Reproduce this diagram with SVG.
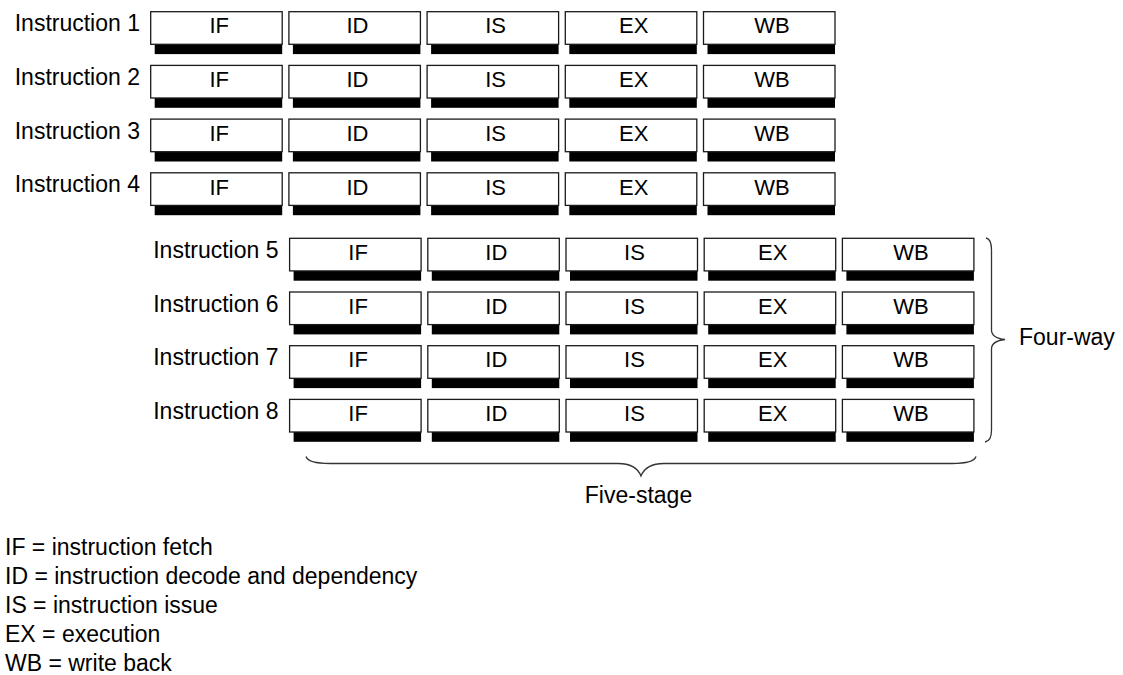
<svg xmlns="http://www.w3.org/2000/svg" width="1123" height="675" viewBox="0 0 1123 675">
<style>
text{font-family:"Liberation Sans",Arial,Helvetica,sans-serif;fill:#000}
.lab{font-size:23px;text-anchor:end}
.st{font-size:22px;text-anchor:middle}
.leg{font-size:23px}
.note{font-size:23px;text-anchor:middle}
.box{fill:#fff;stroke:#1a1a1a;stroke-width:1.3}
.sh{fill:#000}
.brace{fill:none;stroke:#333;stroke-width:1.3}
</style>
<defs>
<g id="stage">
<rect class="sh" x="4" y="32.6" width="127.5" height="9.8"/>
<rect class="box" x="0" y="0" width="131.5" height="32.6"/>
</g>
<g id="row">
<use href="#stage" x="0"/>
<use href="#stage" x="138.2"/>
<use href="#stage" x="276.4"/>
<use href="#stage" x="414.6"/>
<use href="#stage" x="552.8"/>
<text class="st" x="68.5" y="21.8">IF</text>
<text class="st" x="206.7" y="21.8">ID</text>
<text class="st" x="344.9" y="21.8">IS</text>
<text class="st" x="483.1" y="21.8">EX</text>
<text class="st" x="621.3" y="21.8">WB</text>
</g>
</defs>
<g id="instr1"><text class="lab" x="140" y="31.3">Instruction 1</text><use href="#row" x="150.7" y="11.7"/></g>
<g id="instr2"><text class="lab" x="140" y="85">Instruction 2</text><use href="#row" x="150.7" y="65.4"/></g>
<g id="instr3"><text class="lab" x="140" y="138.7">Instruction 3</text><use href="#row" x="150.7" y="119.1"/></g>
<g id="instr4"><text class="lab" x="140" y="192.4">Instruction 4</text><use href="#row" x="150.7" y="172.8"/></g>
<g id="instr5"><text class="lab" x="278.5" y="257.9">Instruction 5</text><use href="#row" x="289.6" y="238.3"/></g>
<g id="instr6"><text class="lab" x="278.5" y="311.6">Instruction 6</text><use href="#row" x="289.6" y="292"/></g>
<g id="instr7"><text class="lab" x="278.5" y="365.3">Instruction 7</text><use href="#row" x="289.6" y="345.7"/></g>
<g id="instr8"><text class="lab" x="278.5" y="419">Instruction 8</text><use href="#row" x="289.6" y="399.4"/></g>
<g id="connectors">
<path class="brace" d="M986,238 Q991.5,239 991.5,250 L991.5,330 Q991.5,338 1005,339.5 Q991.5,341 991.5,349 L991.5,430 Q991.5,441 985,442"/>
<path class="brace" d="M306,456.5 Q308,463.5 330,463.5 L618,463.5 Q636,463.5 641,476 Q646,463.5 664,463.5 L952,463.5 Q974,463.5 976,456.5"/>
</g>
<g id="four-way"><text class="leg" x="1019" y="345">Four-way</text></g>
<g id="five-stage"><text class="note" x="638.5" y="503">Five-stage</text></g>
<g id="legend">
<text class="leg" x="5" y="554.5">IF = instruction fetch</text>
<text class="leg" x="5" y="583.5">ID = instruction decode and dependency</text>
<text class="leg" x="5" y="612.5">IS = instruction issue</text>
<text class="leg" x="5" y="641.5">EX = execution</text>
<text class="leg" x="5" y="670.5">WB = write back</text>
</g>
</svg>
